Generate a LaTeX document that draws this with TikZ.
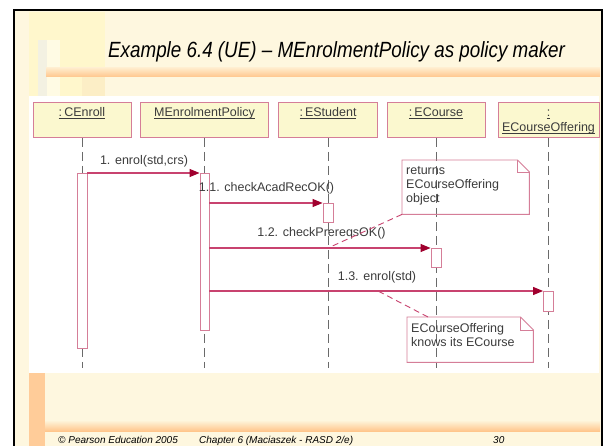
\documentclass[tikz,border=0pt]{standalone}
\usepackage{fontspec}
\setmainfont{Liberation Sans}
\usetikzlibrary{arrows.meta,calc}
\definecolor{cream}{HTML}{FEF7DF}
\definecolor{objfill}{HTML}{FBF8CF}
\definecolor{pinkline}{HTML}{D57E98}
\definecolor{msgline}{HTML}{C8436F}
\definecolor{tipred}{HTML}{A0002E}
\definecolor{lifegray}{HTML}{6A6A6A}
\definecolor{txtgray}{HTML}{3C3C3C}
\definecolor{decoyellow}{HTML}{FFF7CC}
\definecolor{decogrey}{HTML}{F3F1E2}
\definecolor{decopale}{HTML}{FFFBE4}
\definecolor{decodark}{HTML}{FCEEC6}
\definecolor{bandlight}{HTML}{FFEBCB}
\definecolor{bandorange}{HTML}{FFC68C}
\definecolor{striporange}{HTML}{FFCC99}
\newcommand{\dgfont}{\fontsize{12.5}{14}\selectfont}
\newcommand{\undl}[1]{\setbox0=\hbox{#1}\rlap{\vrule height -1.5pt depth 2.3pt width \wd0}\box0}
\begin{document}
\begin{tikzpicture}[x=1pt,y=-1pt,
  objbox/.style={draw=pinkline, fill=objfill, line width=0.9pt, minimum height=35pt, inner sep=0pt, anchor=north},
  objtext/.style={text=txtgray, font=\dgfont, inner sep=0pt, anchor=base},
  actbox/.style={draw=pinkline, fill=white, line width=0.9pt, inner sep=0pt, anchor=north, minimum width=10pt},
  lifeline/.style={draw=lifegray, line width=0.9pt, dash pattern=on 9pt off 5pt},
  msg/.style={draw=msgline, line width=1.1pt, -{Triangle[length=10pt,width=8pt,color=tipred,fill=tipred]}},
  msgtext/.style={text=txtgray, font=\dgfont, inner sep=0pt, anchor=base},
  notebox/.style={inner sep=0pt, anchor=north west},
  noteline/.style={draw=pinkline, line width=0.9pt},
  notelink/.style={draw=msgline, line width=0.9pt, dash pattern=on 6pt off 4pt},
  notetext/.style={text=txtgray, font=\dgfont, inner sep=0pt, anchor=north west, align=left},
  foottext/.style={anchor=base west, inner sep=0pt, font=\fontsize{10}{12}\selectfont\itshape}
]
\useasboundingbox (0,0) rectangle (605,446);
\fill[white] (0,0) rectangle (605,446);
% slide
\fill[cream] (14,10) rectangle (602,460);
% top-left decoration
\fill[decoyellow] (29,12) rectangle (105,96);
\fill[decogrey] (38,40) rectangle (47,96);
\fill[decopale] (47,40) rectangle (60,96);
\fill[decodark] (82,77) rectangle (105,96);
% title band
\shade[top color=bandlight, bottom color=bandorange] (46,68) rectangle (600,77);
% title
\node[anchor=base west, inner sep=0pt] (title) at (108,58)
  {\scalebox{0.855}[1]{\fontsize{22}{26}\selectfont\itshape Example 6.4 (UE) – MEnrolmentPolicy as policy maker}};
% diagram area
\fill[white] (29,96) rectangle (599,373);
% bottom decoration
\fill[striporange] (29,373) rectangle (45,446);
\shade[top color=cream, bottom color=bandorange] (45,420) rectangle (600,431);
% footer
\node[foottext] (foot1) at (58,443.5) {© Pearson Education 2005};
\node[foottext] (foot2) at (199,443.5) {Chapter 6 (Maciaszek - RASD 2/e)};
\node[foottext] (foot3) at (493,443.5) {30};
% border
\draw[line width=2pt] (14,460) -- (14,10) -- (602,10) -- (602,460);

% objects
\node[objbox, minimum width=98pt] (oA) at (82,102) {};
\node[objbox, minimum width=128pt] (oB) at (204.5,102) {};
\node[objbox, minimum width=99pt] (oC) at (328,102) {};
\node[objbox, minimum width=98pt] (oD) at (436,102) {};
\node[objbox, minimum width=101pt] (oE) at (548.5,102) {};
\node[objtext] (oAt) at (82,117) {\undl{:\,CEnroll}};
\node[objtext] (oBt) at (204.5,117) {\undl{MEnrolmentPolicy}};
\node[objtext] (oCt) at (328,117) {\undl{:\,EStudent}};
\node[objtext] (oDt) at (436,117) {\undl{:\,ECourse}};
\node[objtext] (oEt1) at (548.5,116.5) {\undl{:}};
\node[objtext] (oEt2) at (548.5,131.5) {\undl{ECourseOffering}};

% lifeline ends
\coordinate (eA) at (82,368);
\coordinate (eB) at (204.5,368);
\coordinate (eC) at (328,368);
\coordinate (eD) at (436,368);
\coordinate (eE) at (548.5,368);
\draw[lifeline] (oA.south) -- (eA);
\draw[lifeline] (oB.south) -- (eB);
\draw[lifeline] (oC.south) -- (eC);
\draw[lifeline] (oD.south) -- (eD);
\draw[lifeline] (oE.south) -- (eE);

% activations
\node[actbox, minimum height=175pt] (aA) at (82,173) {};
\node[actbox, minimum height=157pt, minimum width=9pt] (aB) at (204.5,173) {};
\node[actbox, minimum height=19pt] (aC) at (328,203) {};
\node[actbox, minimum height=19pt] (aD) at (436,248) {};
\node[actbox, minimum height=20pt] (aE) at (548.5,291) {};

% messages
\draw[msg] (aA.north east) -- (aB.north west);
\draw[msg] (aB.east |- aC.north) -- (aC.north west);
\draw[msg] (aB.east |- aD.north) -- (aD.north west);
\draw[msg] (aB.east |- aE.north) -- (aE.north west);
\node[msgtext] (m1) at (144,164.5) {1. enrol(std,crs)};
\node[msgtext] (m11) at (266.5,192) {1.1. checkAcadRecOK()};
\node[msgtext] (m12) at (321.5,237) {1.2. checkPrereqsOK()};
\node[msgtext] (m13) at (377,281) {1.3. enrol(std)};

% note 1
\node[notebox, minimum width=127pt, minimum height=54pt] (n1) at (402,160) {};
\draw[noteline] (n1.north west) -- ($(n1.north east)+(-12,0)$) -- ($(n1.north east)+(0,12)$) -- (n1.south east) -- (n1.south west) -- cycle;
\draw[noteline] ($(n1.north east)+(-12,0)$) -- ++(0,12) -- ++(12,0);
\node[notetext] (n1t) at (406,164.2) {\strut returns\\ECourseOffering\\object};
\coordinate (c12) at (328,248);
\draw[notelink] (n1.south west) -- (c12);

% note 2
\node[notebox, minimum width=126pt, minimum height=45pt] (n2) at (407,317) {};
\draw[noteline] (n2.north west) -- ($(n2.north east)+(-13,0)$) -- ($(n2.north east)+(0,13)$) -- (n2.south east) -- (n2.south west) -- cycle;
\draw[noteline] ($(n2.north east)+(-13,0)$) -- ++(0,13) -- ++(13,0);
\node[notetext] (n2t) at (411,322.2) {\strut ECourseOffering\\knows its ECourse};
\coordinate (n2a) at (428,317);
\coordinate (c13) at (378,291);
\draw[notelink] (n2a) -- (c13);
\end{tikzpicture}
\end{document}
